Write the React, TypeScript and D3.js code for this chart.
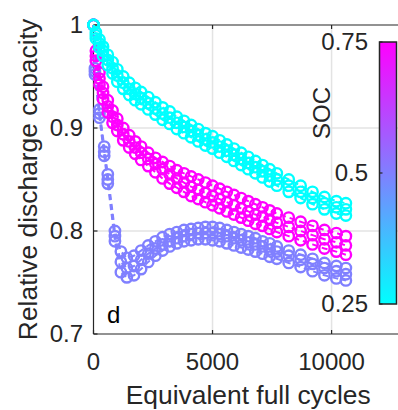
import React from 'react';
import * as d3 from 'd3';

// equivalent full cycles at each check-up
const cycles25 = [0, 100, 250, 400, 600, 800, 1000, 1250, 1500, 1750, 2000, 2300, 2600, 2900, 3200, 3500, 3800, 4100, 4400, 4700, 5000, 5300, 5600, 5900, 6200, 6500, 6800, 7100, 7400, 7700, 8200, 8700, 9200, 9700, 10200, 10600];
const cycles50 = [0, 60, 250, 450, 600, 900, 1150, 1400, 1700, 2000, 2300, 2600, 2900, 3200, 3500, 3800, 4100, 4400, 4700, 5000, 5300, 5600, 5900, 6200, 6500, 6800, 7100, 7400, 7700, 8200, 8700, 9200, 9700, 10200, 10600];
const cycles75 = [0, 100, 250, 400, 600, 800, 1000, 1250, 1500, 1750, 2000, 2300, 2600, 2900, 3200, 3500, 3800, 4100, 4400, 4700, 5000, 5300, 5600, 5900, 6200, 6500, 6800, 7100, 7400, 7700, 8200, 8700, 9200, 9700, 10200, 10600];

// relative discharge capacity, three cells per SOC
const soc25a = [1.0, 0.993, 0.986, 0.979, 0.971, 0.964, 0.957, 0.950, 0.944, 0.939, 0.935, 0.930, 0.925, 0.920, 0.916, 0.911, 0.907, 0.903, 0.899, 0.895, 0.892, 0.888, 0.884, 0.880, 0.876, 0.872, 0.868, 0.864, 0.860, 0.856, 0.850, 0.844, 0.838, 0.833, 0.829, 0.827];
const soc25b = [1.0, 0.990, 0.982, 0.975, 0.966, 0.958, 0.951, 0.944, 0.938, 0.933, 0.929, 0.924, 0.919, 0.914, 0.910, 0.905, 0.901, 0.897, 0.893, 0.889, 0.886, 0.882, 0.878, 0.874, 0.870, 0.866, 0.862, 0.858, 0.854, 0.850, 0.844, 0.838, 0.832, 0.827, 0.823, 0.821];
const soc25c = [1.0, 0.987, 0.978, 0.970, 0.961, 0.953, 0.945, 0.938, 0.932, 0.927, 0.923, 0.918, 0.913, 0.908, 0.904, 0.899, 0.895, 0.891, 0.887, 0.883, 0.880, 0.876, 0.872, 0.868, 0.864, 0.860, 0.856, 0.852, 0.848, 0.844, 0.838, 0.832, 0.826, 0.821, 0.817, 0.815];

const soc50a = [1.0, 0.958, 0.918, 0.882, 0.855, 0.800, 0.780, 0.774, 0.776, 0.781, 0.786, 0.790, 0.794, 0.797, 0.799, 0.801, 0.802, 0.803, 0.804, 0.804, 0.803, 0.801, 0.799, 0.797, 0.795, 0.793, 0.790, 0.788, 0.785, 0.781, 0.777, 0.773, 0.769, 0.766, 0.764];
const soc50b = [1.0, 0.955, 0.914, 0.877, 0.850, 0.795, 0.770, 0.764, 0.766, 0.772, 0.778, 0.783, 0.787, 0.790, 0.793, 0.795, 0.797, 0.798, 0.798, 0.798, 0.797, 0.795, 0.793, 0.791, 0.789, 0.787, 0.785, 0.782, 0.780, 0.776, 0.772, 0.768, 0.764, 0.761, 0.758];
const soc50c = [1.0, 0.952, 0.910, 0.873, 0.846, 0.790, 0.760, 0.755, 0.757, 0.763, 0.770, 0.776, 0.781, 0.785, 0.788, 0.790, 0.791, 0.792, 0.792, 0.791, 0.790, 0.788, 0.786, 0.784, 0.782, 0.780, 0.778, 0.775, 0.773, 0.769, 0.765, 0.761, 0.757, 0.754, 0.752];

const soc75a = [1.0, 0.975, 0.954, 0.940, 0.927, 0.917, 0.909, 0.900, 0.893, 0.887, 0.882, 0.876, 0.871, 0.867, 0.863, 0.859, 0.856, 0.853, 0.850, 0.847, 0.844, 0.841, 0.838, 0.835, 0.832, 0.829, 0.826, 0.823, 0.820, 0.817, 0.813, 0.809, 0.805, 0.801, 0.798, 0.795];
const soc75b = [1.0, 0.970, 0.948, 0.934, 0.921, 0.911, 0.903, 0.894, 0.887, 0.881, 0.876, 0.870, 0.865, 0.860, 0.855, 0.851, 0.847, 0.843, 0.840, 0.837, 0.834, 0.831, 0.828, 0.825, 0.822, 0.819, 0.816, 0.814, 0.811, 0.808, 0.804, 0.800, 0.796, 0.792, 0.789, 0.786];
const soc75c = [1.0, 0.965, 0.942, 0.928, 0.915, 0.905, 0.897, 0.888, 0.881, 0.875, 0.869, 0.863, 0.857, 0.851, 0.846, 0.842, 0.838, 0.834, 0.831, 0.828, 0.825, 0.822, 0.819, 0.816, 0.813, 0.810, 0.807, 0.805, 0.802, 0.799, 0.795, 0.791, 0.787, 0.783, 0.780, 0.777];

const xTicks = [0, 5000, 10000];
const yTicks = [0.7, 0.8, 0.9, 1];
const yTickLabels = ['0.7', '0.8', '0.9', '1'];
const socTicks = [0.25, 0.5, 0.75];
const socTickLabels = ['0.25', '0.5', '0.75'];

// drawing order: 0.5 first, then 0.75, then 0.25 on top
const series = [
  { soc: 0.5, cycles: cycles50, cells: [soc50a, soc50b, soc50c] },
  { soc: 0.75, cycles: cycles75, cells: [soc75a, soc75b, soc75c] },
  { soc: 0.25, cycles: cycles25, cells: [soc25a, soc25b, soc25c] },
];

const FONT = '"Liberation Sans", Arial, Helvetica, sans-serif';
const INK = '#262626';
const TICK_FS = 24;
const LABEL_FS = 26.4;

const App = () => {
  const width = 398;
  const height = 410;
  const left = 93.5;
  const top = 25;
  const bottom = 334;
  const right = 403;

  const x = d3.scaleLinear().domain([0, 13000]).range([left, right]);
  const y = d3.scaleLinear().domain([0.7, 1]).range([bottom, top]);
  const color = d3
    .scaleLinear<string>()
    .domain([0.25, 0.75])
    .range(['#00ffff', '#ff00ff'])
    .interpolate(d3.interpolateRgb);

  const cbLeft = 379.5;
  const cbWidth = 17;
  const cb = d3.scaleLinear().domain([0.25, 0.75]).range([304, 42]);

  return (
    <svg
      width={width}
      height={height}
      style={{ position: 'absolute', left: 0, top: 0, background: '#fff' }}
      fontFamily={FONT}
    >
      <defs>
        <linearGradient id="cool" x1="0" y1="1" x2="0" y2="0">
          <stop offset="0" stopColor="#00ffff" />
          <stop offset="1" stopColor="#ff00ff" />
        </linearGradient>
      </defs>

      {/* grid */}
      {xTicks.slice(1).map((t) => (
        <line key={`gx${t}`} x1={x(t)} x2={x(t)} y1={top} y2={bottom} stroke="#e3e3e3" strokeWidth={1.5} />
      ))}
      {yTicks.slice(1, 3).map((t) => (
        <line key={`gy${t}`} x1={left} x2={right} y1={y(t)} y2={y(t)} stroke="#e3e3e3" strokeWidth={1.5} />
      ))}

      {/* axes box */}
      <line x1={left} x2={right} y1={top} y2={top} stroke={INK} strokeWidth={1.2} />
      <line x1={left} x2={right} y1={bottom} y2={bottom} stroke={INK} strokeWidth={1.2} />
      <line x1={left} x2={left} y1={top} y2={bottom} stroke={INK} strokeWidth={1.2} />
      {xTicks.map((t) => (
        <g key={`tx${t}`}>
          <line x1={x(t)} x2={x(t)} y1={bottom} y2={bottom - 4} stroke={INK} strokeWidth={1.2} />
          <line x1={x(t)} x2={x(t)} y1={top} y2={top + 4} stroke={INK} strokeWidth={1.2} />
          <text x={x(t)} y={370} textAnchor="middle" fontSize={TICK_FS} fill={INK}>
            {t}
          </text>
        </g>
      ))}
      {yTicks.map((t, i) => (
        <g key={`ty${t}`}>
          <line x1={left} x2={left + 4} y1={y(t)} y2={y(t)} stroke={INK} strokeWidth={1.2} />
          <text x={83} y={y(t)} dy="0.35em" textAnchor="end" fontSize={TICK_FS} fill={INK}>
            {yTickLabels[i]}
          </text>
        </g>
      ))}

      {/* data */}
      {series.map((s) => {
        const c = color(s.soc);
        return (
          <g key={s.soc}>
            {s.cells.map((cell, ci) => {
              const pts: [number, number][] = s.cycles.map((cy, i) => [x(cy), y(cell[i])]);
              const line = d3.line();
              return (
                <g key={ci}>
                  <path d={line(pts) || ''} fill="none" stroke={c} strokeWidth={2} strokeDasharray="6 4" />
                  {pts.map((p, i) => (
                    <circle key={i} cx={p[0]} cy={p[1]} r={5.2} fill="none" stroke={c} strokeWidth={2.4} />
                  ))}
                </g>
              );
            })}
          </g>
        );
      })}

      {/* panel letter */}
      <text x={107} y={323} fontSize={TICK_FS} fill="#000">
        d
      </text>

      {/* axis labels */}
      <text x={(left + right) / 2} y={404} textAnchor="middle" fontSize={LABEL_FS} fill={INK}>
        Equivalent full cycles
      </text>
      <text
        transform={`translate(37,${(top + bottom) / 2}) rotate(-90)`}
        textAnchor="middle"
        fontSize={LABEL_FS}
        fill={INK}
      >
        Relative discharge capacity
      </text>

      {/* colorbar */}
      <rect x={cbLeft} y={cb(0.75)} width={cbWidth} height={cb(0.25) - cb(0.75)} fill="url(#cool)" stroke={INK} strokeWidth={1.5} />
      {socTicks.map((t, i) => (
        <g key={`cb${t}`}>
          <line x1={cbLeft} x2={cbLeft + 3} y1={cb(t)} y2={cb(t)} stroke={INK} strokeWidth={1.2} />
          <text x={368} y={cb(t)} dy="0.35em" textAnchor="end" fontSize={TICK_FS} fill={INK}>
            {socTickLabels[i]}
          </text>
        </g>
      ))}
      <text transform="translate(330,113) rotate(-90)" textAnchor="middle" fontSize={TICK_FS} fill={INK}>
        SOC
      </text>
    </svg>
  );
};

export default App;
